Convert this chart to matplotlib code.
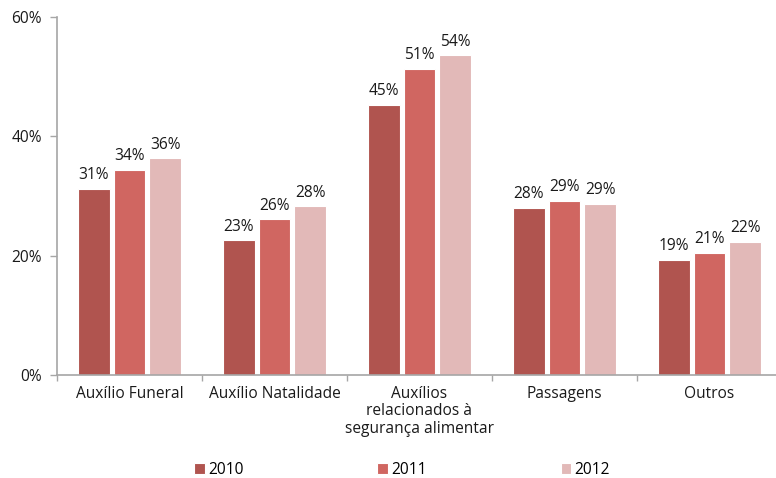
import matplotlib
matplotlib.use("Agg")
import matplotlib.pyplot as plt
import numpy as np
from matplotlib.ticker import FuncFormatter, FixedLocator

categories = ["Auxílio Funeral", "Auxílio Natalidade",
              "Auxílios\nrelacionados à\nsegurança alimentar", "Passagens", "Outros"]
years = ["2010", "2011", "2012"]
v2010 = [31.2, 22.6, 45.3, 28.0, 19.3]
v2011 = [34.4, 26.1, 51.3, 29.2, 20.5]
v2012 = [36.3, 28.3, 53.6, 28.7, 22.3]
labels2010 = ["31%", "23%", "45%", "28%", "19%"]
labels2011 = ["34%", "26%", "51%", "29%", "21%"]
labels2012 = ["36%", "28%", "54%", "29%", "22%"]
yticks = [0, 20, 40, 60]

colors = ["#B0544F", "#D06661", "#E2B9B8"]
plt.rcParams['font.family'] = ['Open Sans', 'DejaVu Sans']
fs = 11.2

fig = plt.figure(figsize=(7.76, 4.78), dpi=100)
ax = fig.add_axes([57/776, 103/478, 1 - 57/776, (375-17)/478])

x = np.arange(len(categories))
step = 0.245
w = 0.215
series = [v2010, v2011, v2012]
labs = [labels2010, labels2011, labels2012]
for i, (vals, lb) in enumerate(zip(series, labs)):
    pos = x + (i - 1) * step
    bars = ax.bar(pos, vals, width=w, color=colors[i], edgecolor="white",
                  linewidth=0.8, label=years[i], zorder=2)
    for b, t in zip(bars, lb):
        ax.annotate(t, (b.get_x() + b.get_width()/2, b.get_height()),
                    xytext=(0, 4), textcoords="offset points",
                    ha="center", va="bottom", fontsize=fs, color="#1a1a1a")

ax.set_ylim(0, 60)
ax.set_xlim(-0.5, -0.5 + 719/145)
ax.set_yticks(yticks)
ax.yaxis.set_major_formatter(FuncFormatter(lambda v, p: f"{int(v)}%"))
ax.set_xticks(x)
ax.set_xticklabels(categories, fontsize=fs, color="#1a1a1a", linespacing=1.1)
ax.xaxis.set_minor_locator(FixedLocator(np.arange(-0.5, 5.0, 1.0)))
ax.tick_params(axis="x", which="major", length=0, pad=8)
ax.tick_params(axis="x", which="minor", length=4, color="#A6A6A6", width=1)
ax.tick_params(axis="y", length=5, color="#A6A6A6", width=1, labelsize=fs,
               labelcolor="#1a1a1a", pad=6)

for s in ["top", "right"]:
    ax.spines[s].set_visible(False)
for s in ["left", "bottom"]:
    ax.spines[s].set_color("#A6A6A6")
    ax.spines[s].set_linewidth(1.2)

leg = fig.legend(loc="center", bbox_to_anchor=(402/776, 1 - 470/478), ncol=3,
                 frameon=False, fontsize=fs, handlelength=0.7, handleheight=0.7,
                 handletextpad=0.2, columnspacing=8.6)

fig.savefig("out.png", dpi=100)
